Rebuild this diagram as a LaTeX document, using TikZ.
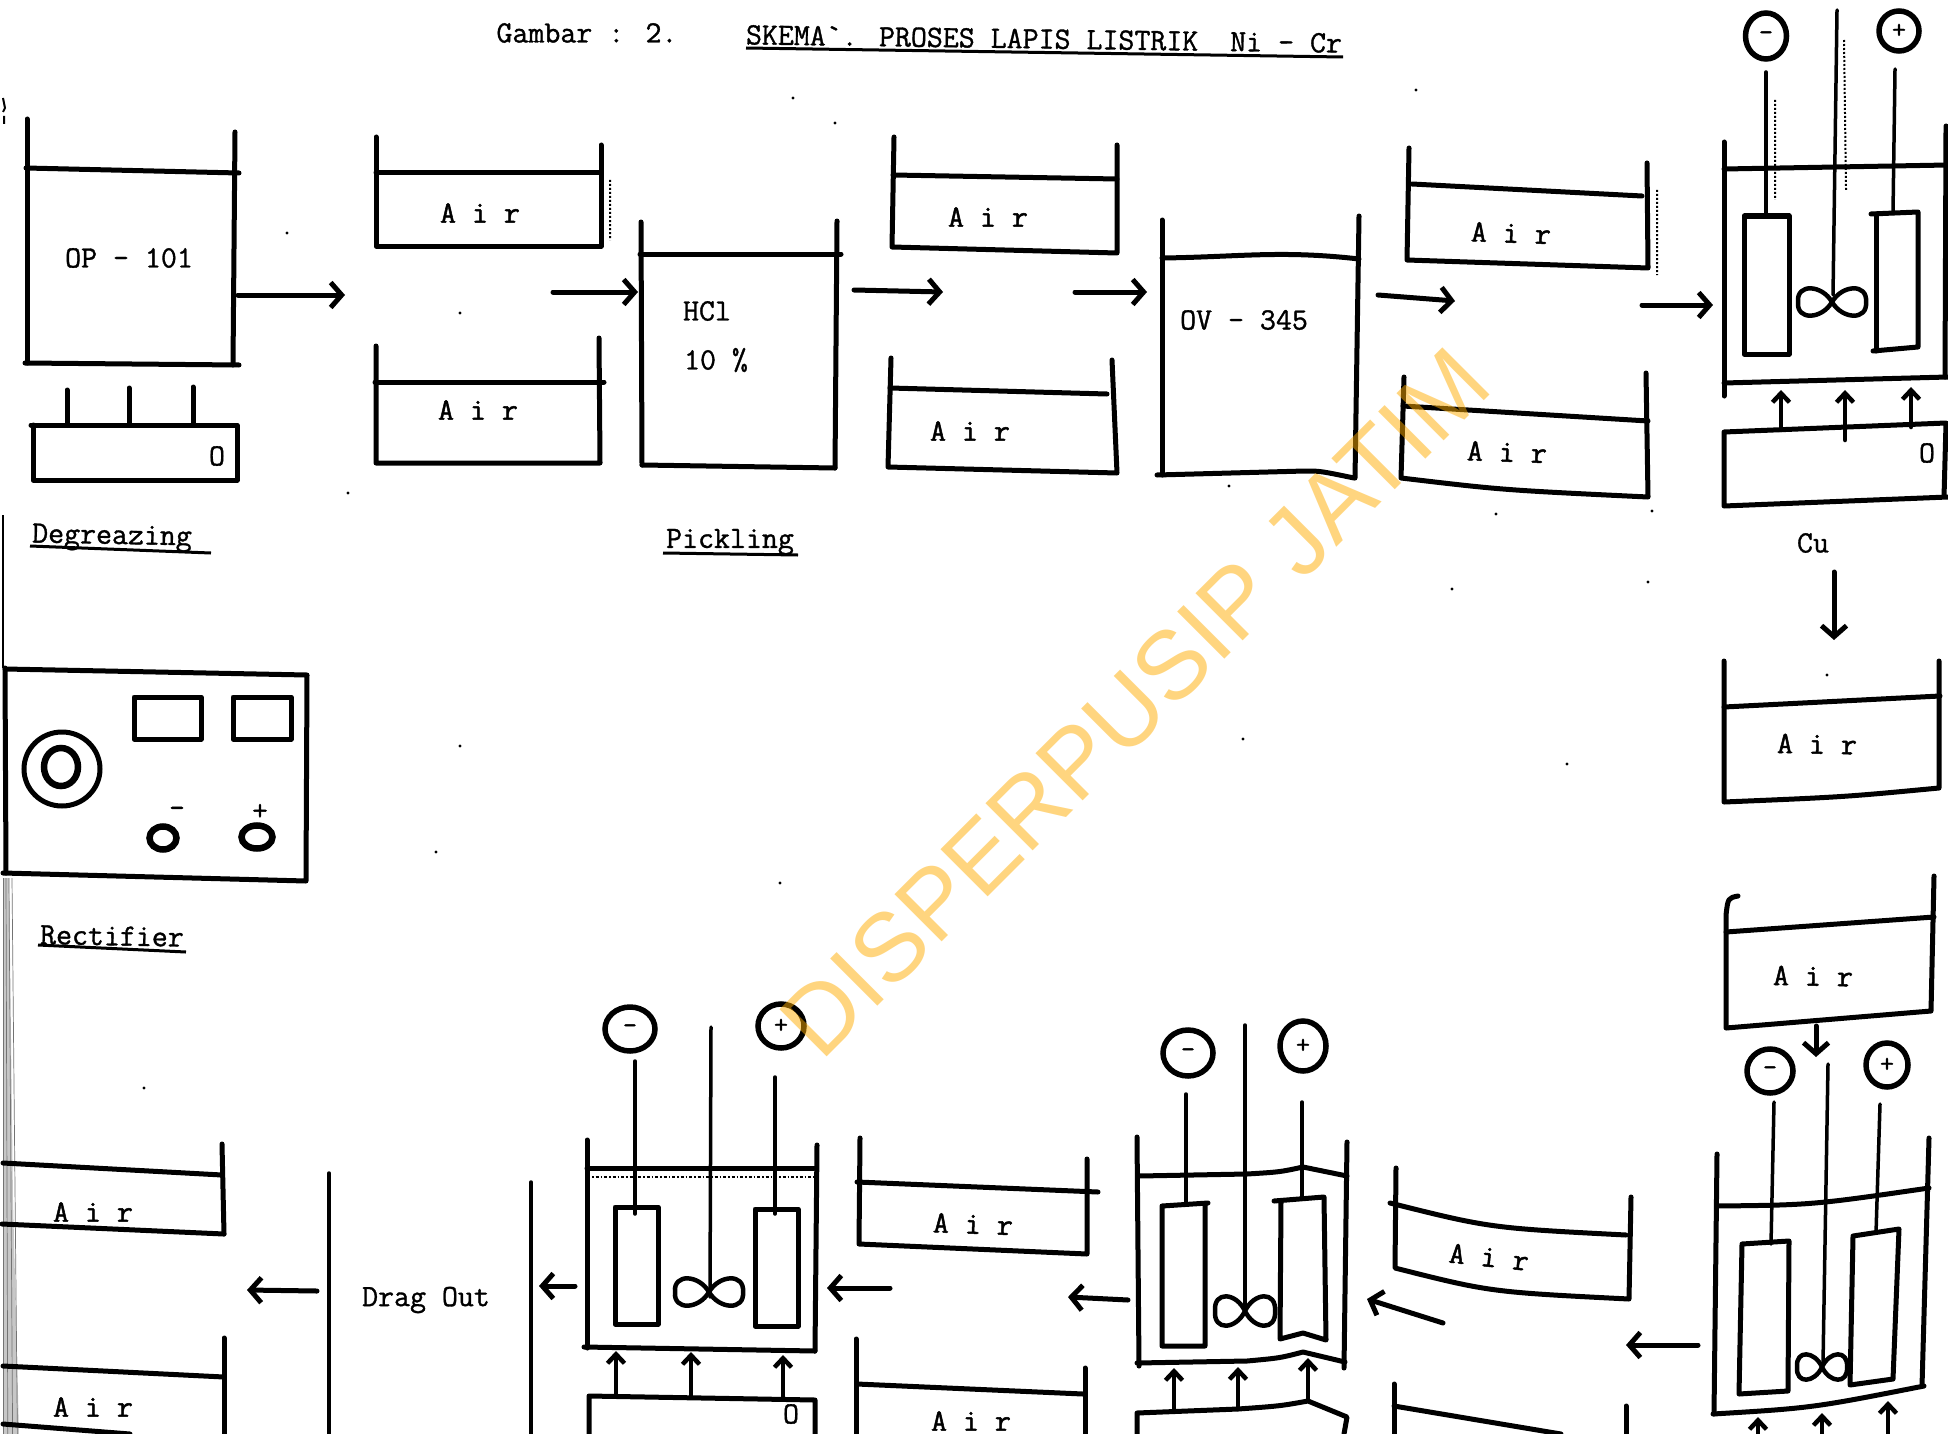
\documentclass[tikz,border=0pt]{standalone}
\usepackage{fontspec}
\usetikzlibrary{arrows.meta,shapes.geometric}
\newfontfamily\airfont{Latin Modern Mono}[FakeBold=1.6]
\newfontfamily\lblfont{Latin Modern Mono}[FakeBold=1.1]
\definecolor{wm}{HTML}{FFAD00}
\newcommand\flowarrow[5]{\coordinate (#1-a) at (#2,#3); \coordinate (#1-b) at (#4,#5); \draw[flowline] (#1-a) -- (#1-b);}
\newcommand\heatarrow[5]{\coordinate (#1-a) at (#2,#3); \coordinate (#1-b) at (#4,#5); \draw[heatline] (#1-a) -- (#1-b);}
\newcommand\propeller[4]{\begin{scope}[shift={(#1,#2)},xscale=#3/2,yscale=#4/2]
\draw[tankline,line width=4.5pt] (0,0) .. controls (.3,-1.3) and (1.05,-1.4) .. (1,0) .. controls (1.05,1.4) and (.3,1.3) .. (0,0) .. controls (-.3,-1.3) and (-1.05,-1.4) .. (-1,0) .. controls (-1.05,1.4) and (-.3,1.3) .. (0,0);
\end{scope}}
\tikzset{
 tankline/.style={line width=5pt,line cap=round,line join=round,black},
 thinline/.style={line width=3.5pt,line cap=round,line join=round,black},
 flowline/.style={line width=5pt,line cap=round,black,-{Straight Barb[length=11pt,width=25pt,line width=5pt]}},
 heatline/.style={line width=4.5pt,line cap=round,black,-{Straight Barb[length=9pt,width=17pt,line width=4.5pt]}},
 txt/.style={inner sep=0pt,font=\fontsize{31}{31}\selectfont\airfont},
 lbl/.style={inner sep=0pt,font=\fontsize{31}{31}\selectfont\lblfont},
 pole/.style={ellipse,draw,line width=5.5pt,inner sep=0pt,font=\fontsize{27}{27}\selectfont\airfont},
 under/.style={line width=3pt,black},
 speck/.style={black}
}
\begin{document}
\begin{tikzpicture}[x=1pt,y=-1pt]
\useasboundingbox (0,0) rectangle (1948,1434);
\fill[white] (0,0) rectangle (1948,1434);
\clip (0,0) rectangle (1948,1434);

% scan edge
\fill[black!22] (3,878) -- (9,878) -- (13,1200) -- (19,1434) -- (3,1434) -- cycle;
\foreach \k in {0,3,6,9}{\draw[line width=.7pt,black!55] (3+\k,878) -- (3+\k*1.6,1434);}
\draw[line width=1.5pt] (3,515) -- (3,668);
\draw[line width=2pt] (3,98) -- (5,108) -- (3,112) (4,116) -- (4,124);

% title
\node[lbl] (gambar) at (587,33) {Gambar : 2.};
\node[lbl,rotate=-0.8] (title) at (1044,39) {SKEMA`. PROSES LAPIS LISTRIK\ \ Ni - Cr};
\draw[under] (746,48) -- (1343,57);

% Degreasing
\draw[tankline] (27,119) -- (27,363);
\draw[tankline] (235,132) -- (233,365);
\draw[tankline] (26,168) -- (239,173);
\draw[tankline] (25,363) -- (239,365);
\node[lbl] (op) at (129,258) {OP - 101};
\draw[tankline] (33,425) -- (33,480) -- (237,480) -- (237,425) -- (31,425);
\draw[tankline] (67,390) -- (67,425);
\draw[tankline] (129,388) -- (129,425);
\draw[tankline] (193,387) -- (193,425);
\node[lbl] (opo) at (217,456) {O};
\node[lbl,rotate=-1] (deg) at (112,538) {Degreazing};
\draw[under] (30,546) -- (211,553);
\flowarrow{fa}{238}{295}{345}{295}

% Air 1, 2
\draw[tankline] (376,137) -- (376,246) -- (601,246) -- (601,145);
\draw[tankline] (376,173) -- (600,173);
\node[txt] (air1) at (480,213) {A i r};
\draw[tankline] (376,346) -- (376,463) -- (600,463) -- (599,338);
\draw[tankline] (375,382) -- (604,382);
\node[txt] (air2) at (478,410) {A i r};
\flowarrow{fb}{553}{292}{638}{292}

% Pickling
\draw[tankline] (641,222) -- (642,465);
\draw[tankline] (837,221) -- (835,468);
\draw[tankline] (640,254) -- (841,254);
\draw[tankline] (642,465) -- (835,468);
\node[lbl] (hcl) at (707,311) {HCl};
\node[lbl] (ten) at (716,360) {10 \%};
\node[lbl] (pick) at (730,542) {Pickling};
\draw[under] (663,553) -- (798,555);
\flowarrow{fc}{854}{290}{943}{292}

% Air 3, 4
\draw[tankline] (894,137) -- (892,247) -- (1117,253) -- (1117,145);
\draw[tankline] (893,175) -- (1117,179);
\node[txt] (air3) at (988,217) {A i r};
\draw[tankline] (891,358) -- (888,467) -- (1117,473) -- (1112,360);
\draw[tankline] (890,388) -- (1107,394);
\node[txt] (air4) at (970,431) {A i r};
\flowarrow{fd}{1075}{292}{1147}{292}

% OV
\draw[tankline] (1162,220) -- (1162,475);
\draw[tankline] (1359,216) -- (1355,478);
\draw[tankline] (1162,258) .. controls (1240,257) and (1280,250) .. (1359,259);
\draw[tankline] (1157,475) -- (1305,471) .. controls (1320,471) .. (1354,478);
\node[lbl] (ov) at (1244,320) {OV - 345};
\flowarrow{fe}{1378}{295}{1455}{301}

% Air 5, 6
\draw[tankline] (1409,148) -- (1407,260) -- (1648,268) -- (1647,163);
\draw[tankline] (1412,184) -- (1642,196);
\node[txt,rotate=-2] (air5) at (1511,233) {A i r};
\draw[tankline] (1404,377) -- (1401,478) .. controls (1502,490) .. (1648,497) -- (1646,373);
\draw[tankline] (1403,406) -- (1648,421);
\node[txt,rotate=-2] (air6) at (1507,452) {A i r};
\flowarrow{ff}{1642}{305}{1713}{305}

% Cu tank
\draw[tankline] (1724,142) -- (1724,396);
\draw[tankline] (1946,126) -- (1945,377);
\draw[tankline] (1724,169) -- (1948,165);
\draw[tankline] (1724,383) -- (1948,377);
\draw[tankline] (1744,216) rectangle (1789,354);
\draw[tankline] (1871,214) -- (1918,212) -- (1918,347) -- (1873,351);
\draw[tankline] (1876,214) -- (1876,351);
\draw[thinline] (1766,72) -- (1766,216);
\draw[thinline] (1895,69) -- (1893,212);
\draw[thinline] (1837,10) -- (1833,295);
\propeller{1832}{302}{68}{27}
\node[pole,minimum width=41pt,minimum height=46pt] (cum) at (1766,36) {-};
\node[pole,minimum width=40pt,minimum height=40pt] (cup) at (1899,31) {+};
\heatarrow{ca}{1781}{430}{1781}{390}
\heatarrow{cb}{1845}{440}{1845}{390}
\heatarrow{cc}{1911}{427}{1911}{387}
\draw[tankline] (1724,432) -- (1946,423) -- (1944,497) -- (1948,497) -- (1724,506) -- cycle;
\node[lbl] (cuo) at (1927,453) {O};
\node[lbl] (cu) at (1813,543) {Cu};
\flowarrow{fg}{1834}{572}{1834}{640}

% Air A, B
\draw[tankline] (1724,661) -- (1724,802) .. controls (1844,797) .. (1939,788) -- (1939,661);
\draw[tankline] (1724,707) -- (1940,696);
\node[txt,rotate=-1] (aira) at (1817,744) {A i r};
\draw[tankline] (1738,896) .. controls (1728,898) .. (1726,915) -- (1726,1028) -- (1931,1011) -- (1934,876);
\draw[tankline] (1726,932) -- (1934,917);
\node[txt,rotate=-1] (airb) at (1813,976) {A i r};
\flowarrow{fh}{1816}{1026}{1816}{1057}

% Ni tank 3 (bottom right)
\draw[tankline] (1717,1154) -- (1714,1414);
\draw[tankline] (1929,1138) -- (1922,1386);
\draw[tankline] (1717,1206) .. controls (1812,1205) .. (1929,1188);
\draw[tankline] (1713,1414) .. controls (1812,1408) .. (1924,1386);
\draw[tankline] (1742,1244) -- (1789,1241) -- (1788,1391) -- (1739,1394) -- cycle;
\draw[tankline] (1853,1236) -- (1899,1229) -- (1893,1379) -- (1850,1385) -- cycle;
\draw[thinline] (1774,1102) -- (1771,1244);
\draw[thinline] (1880,1104) -- (1876,1233);
\draw[thinline] (1828,1064) -- (1823,1363);
\propeller{1822}{1367}{50}{25}
\node[pole,minimum width=46pt,minimum height=44pt] (nim3) at (1770,1071) {-};
\node[pole,minimum width=42pt,minimum height=44pt] (nip3) at (1887,1065) {+};
\heatarrow{na}{1758}{1434}{1758}{1417}
\heatarrow{nb}{1822}{1434}{1822}{1413}
\heatarrow{nc}{1888}{1434}{1888}{1401}
\flowarrow{fi}{1698}{1345}{1626}{1345}

% Air C, D
\draw[tankline] (1396,1168) -- (1395,1268) .. controls (1490,1292) .. (1629,1299) -- (1631,1197);
\draw[tankline] (1390,1203) .. controls (1490,1228) .. (1626,1235);
\node[txt,rotate=-6] (airc) at (1489,1257) {A i r};
\draw[tankline] (1394,1384) -- (1394,1434);
\draw[tankline] (1394,1406) -- (1561,1434);
\draw[tankline] (1626,1406) -- (1626,1434);
\flowarrow{fj}{1443}{1323}{1367}{1299}

% Ni tank 2 (middle)
\draw[tankline] (1137,1137) -- (1139,1366);
\draw[tankline] (1347,1142) -- (1344,1368);
\draw[tankline] (1139,1176) -- (1247,1174) .. controls (1280,1172) .. (1303,1167) -- (1347,1176);
\draw[tankline] (1137,1363) -- (1247,1361) .. controls (1280,1358) .. (1303,1352) -- (1345,1362);
\draw[tankline] (1162,1206) -- (1208,1203) (1162,1206) -- (1162,1346) -- (1205,1346) -- (1205,1203);
\draw[tankline] (1274,1201) -- (1324,1197) -- (1326,1340) -- (1303,1333) -- (1280,1339) -- (1281,1201);
\draw[thinline] (1186,1094) -- (1186,1203);
\draw[thinline] (1302,1102) -- (1302,1197);
\draw[thinline] (1245,1025) -- (1245,1305);
\propeller{1245}{1311}{60}{29}
\node[pole,minimum width=50pt,minimum height=46pt] (nim2) at (1188,1053) {-};
\node[pole,minimum width=46pt,minimum height=50pt] (nip2) at (1303,1046) {+};
\heatarrow{ma}{1174}{1409}{1174}{1368}
\heatarrow{mb}{1238}{1409}{1238}{1367}
\heatarrow{mc}{1308}{1401}{1308}{1358}
\draw[tankline] (1137,1434) -- (1137,1413) -- (1238,1409) .. controls (1280,1406) .. (1308,1401) -- (1347,1417) -- (1344,1434);
\flowarrow{fk}{1128}{1300}{1068}{1297}

% Air E, F
\draw[tankline] (860,1138) -- (859,1244) -- (1087,1254) -- (1087,1159);
\draw[tankline] (857,1182) -- (1098,1192);
\node[txt,rotate=-2] (aire) at (973,1224) {A i r};
\draw[tankline] (856,1339) -- (856,1434);
\draw[tankline] (857,1384) -- (1083,1394);
\draw[tankline] (1085,1368) -- (1085,1434);
\node[txt] (airf) at (971,1421) {A i r};
\flowarrow{fl}{890}{1288}{827}{1288}

% Ni tank 1
\draw[tankline] (587,1140) -- (587,1348);
\draw[tankline] (817,1145) -- (815,1351);
\draw[tankline] (587,1168) -- (814,1168);
\draw[line width=1.5pt,dash dot] (587,1177) -- (814,1177);
\draw[tankline] (584,1347) -- (815,1351);
\draw[tankline] (615,1207) rectangle (658,1324);
\draw[tankline] (755,1209) rectangle (798,1326);
\draw[thinline] (635,1061) -- (635,1214);
\draw[thinline] (775,1077) -- (775,1214);
\draw[thinline] (711,1027) -- (710,1297);
\propeller{709}{1292}{68}{27}
\node[pole,minimum width=50pt,minimum height=44pt] (nim1) at (630,1029) {-};
\node[pole,minimum width=46pt,minimum height=44pt] (nip1) at (781,1026) {+};
\heatarrow{la}{616}{1396}{616}{1351}
\heatarrow{lb}{691}{1396}{691}{1352}
\heatarrow{lc}{783}{1399}{783}{1355}
\draw[tankline] (589,1434) -- (589,1396) -- (815,1400) -- (815,1434);
\node[lbl] (nio) at (791,1414) {O};
\flowarrow{fm}{575}{1286}{539}{1286}

% Drag out
\draw[thinline] (329,1173) -- (329,1434);
\draw[thinline] (531,1182) -- (531,1434);
\node[lbl] (drag) at (426,1300) {Drag Out};
\flowarrow{fn}{317}{1291}{247}{1290}

% Left air tanks
\draw[tankline] (222,1144) -- (224,1234);
\draw[tankline] (3,1163) -- (222,1175);
\draw[tankline] (2,1224) -- (224,1234);
\node[txt] (airg) at (93,1212) {A i r};
\draw[tankline] (224,1338) -- (224,1434);
\draw[tankline] (3,1366) -- (224,1377);
\draw[tankline] (3,1424) -- (130,1434);
\node[txt] (airh) at (93,1407) {A i r};

% Rectifier
\draw[tankline] (5,669) -- (307,675) -- (306,881) -- (3,873);
\draw[tankline] (5,668) -- (6,873);
\draw[tankline] (134,697) rectangle (201,739);
\draw[tankline] (233,697) rectangle (291,739);
\node[ellipse,draw,line width=5pt,minimum width=76pt,minimum height=74pt] (dial) at (62,769) {};
\node[ellipse,draw,line width=6.5pt,minimum width=34pt,minimum height=38pt] (dialin) at (61,767) {};
\node[ellipse,draw,line width=6.5pt,minimum width=27pt,minimum height=23pt] (kneg) at (163,838) {};
\node[ellipse,draw,line width=6.5pt,minimum width=31pt,minimum height=23pt] (kpos) at (257,837) {};
\node[inner sep=0pt,font=\fontsize{30}{30}\selectfont\airfont] (mneg) at (177,812) {-};
\node[inner sep=0pt,font=\fontsize{30}{30}\selectfont\airfont] (mpos) at (260,812) {+};
\node[lbl,rotate=-1] (rect) at (112,936) {Rectifier};
\draw[under] (38,945) -- (186,952);

% specks
\foreach \px/\py in {287/233,460/313,348/493,835/123,793/98,460/746,436/852,144/1088,780/883,1243/739,1567/764,1827/675,1416/90,1229/486,1652/511,1496/514,1452/589,1648/582}{\fill[speck] (\px,\py) circle (1.6pt);}
\draw[line width=2pt,dotted] (610,180) -- (610,240) (1657,190) -- (1657,275) (1844,40) -- (1846,190) (1775,100) -- (1775,200);

% watermark
\node[inner sep=0pt,text=wm,opacity=.5,rotate=45,font=\fontsize{97}{97}\selectfont\fontspec{Liberation Sans}] (wmark) at (1135,702) {DISPERPUSIP JATIM};
\end{tikzpicture}
\end{document}
